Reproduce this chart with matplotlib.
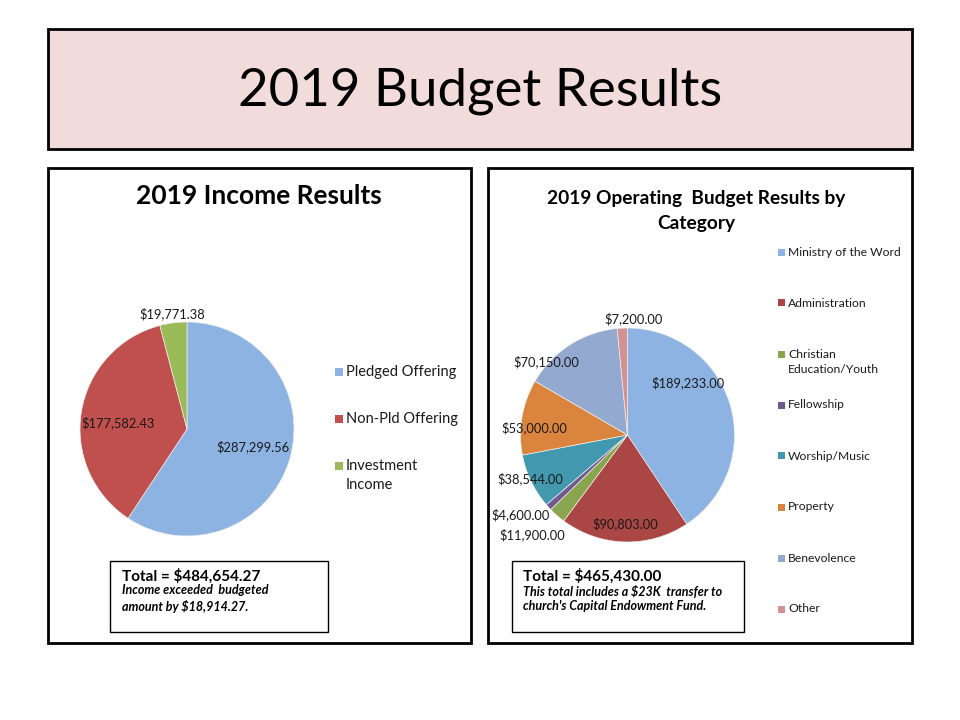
import numpy as np
import matplotlib
matplotlib.use("Agg")
import matplotlib.pyplot as plt
from matplotlib.patches import Rectangle

plt.rcParams['font.family'] = ['Lato', 'DejaVu Sans']

# ---------------- data ----------------
main_title = "2019 Budget Results"

income_title = "2019 Income Results"
income_categories = ["Pledged Offering", "Non-Pld Offering", "Investment\nIncome"]
income_values = [287299.56, 177582.43, 19771.38]
income_colors = ["#8DB3E2", "#C0504D", "#9BBB59"]
income_note_total = "Total = $484,654.27"
income_note_text = "Income exceeded  budgeted\namount by $18,914.27."

budget_title = "2019 Operating  Budget Results by\nCategory"
budget_categories = ["Ministry of the Word", "Administration", "Christian\nEducation/Youth",
                     "Fellowship", "Worship/Music", "Property", "Benevolence", "Other"]
budget_values = [189233.00, 90803.00, 11900.00, 4600.00, 38544.00, 53000.00, 70150.00, 7200.00]
budget_colors = ["#8DB3E2", "#AA4643", "#89A54E", "#71588F", "#4198AF", "#DB843D", "#93A9CF", "#D19392"]
budget_note_total = "Total = $465,430.00"
budget_note_text = "This total includes a $23K  transfer to\nchurch's Capital Endowment Fund."

# label placement styles (radial distance, angle nudge in degrees)
income_lbl_dist = [0.64, 0.65, 1.09]
income_lbl_nudge = [1.4, 4.4, 0.0]
budget_lbl_dist = [0.75, 0.83, 1.29, 1.25, 0.99, 0.87, 1.02, 1.085]
budget_lbl_nudge = [23.9, 0.0, -2.5, -5.7, -1.6, 5.4, 15.1, -6.0]

W, H = 960, 720
fig = plt.figure(figsize=(9.6, 7.2), dpi=100)
fig.patch.set_facecolor("white")


def fx(px):
    return px / W


def fy(py):
    return 1 - py / H


def box(x0, y0, x1, y1, fc="white", lw=2.0, ec="black"):
    r = Rectangle((fx(x0), fy(y1)), (x1 - x0) / W, (y1 - y0) / H,
                  transform=fig.transFigure, facecolor=fc, edgecolor=ec,
                  linewidth=lw, zorder=0)
    fig.add_artist(r)


# header
box(48, 29, 912, 149, fc="#F2DCDB", lw=2.0)
fig.text(fx(480), fy(91), main_title, ha="center", va="center", fontsize=38, color="black")

# panels
box(48, 168, 471, 643, lw=2.0)
box(488, 168, 912, 643, lw=2.0)

fig.text(fx(259), fy(196), income_title, ha="center", va="center", fontsize=19,
         fontweight="bold")
fig.text(fx(696), fy(211), budget_title, ha="center", va="center", fontsize=13.8,
         fontweight="bold", linespacing=1.6)


def draw_pie(cx, cy, r, values, colors, dists, nudges, lblsize):
    ax = fig.add_axes([fx(cx - r), fy(cy + r), 2 * r / W, 2 * r / H])
    wedges, _ = ax.pie(values, colors=colors, startangle=90, counterclock=False,
                       radius=1.0, wedgeprops=dict(edgecolor="#EDEDED", linewidth=0.5))
    ax.set_xlim(-1, 1)
    ax.set_ylim(-1, 1)
    ax.set_aspect("equal")
    ax.axis("off")
    for w, v, d, n in zip(wedges, values, dists, nudges):
        ang = np.deg2rad((w.theta1 + w.theta2) / 2 + n)
        ax.text(d * np.cos(ang), d * np.sin(ang), f"${v:,.2f}", ha="center", va="center",
                fontsize=lblsize, color="#1a1a1a", clip_on=False)
    return ax


draw_pie(187, 429, 107, income_values, income_colors, income_lbl_dist, income_lbl_nudge, 9.3)
draw_pie(627.5, 435, 107, budget_values, budget_colors, budget_lbl_dist, budget_lbl_nudge, 9.3)


def legend(x, y0, step, labels, colors, fs, sq, lstep):
    for i, (lab, c) in enumerate(zip(labels, colors)):
        y = y0 + i * step
        fig.add_artist(Rectangle((fx(x), fy(y + sq / 2)), sq / W, sq / H,
                                 transform=fig.transFigure, facecolor=c, edgecolor="none"))
        for j, line in enumerate(lab.split("\n")):
            fig.text(fx(x + sq + 3), fy(y + j * lstep), line, ha="left", va="center",
                     fontsize=fs, color="#1a1a1a")


legend(335, 372, 47, income_categories, income_colors, 10.5, 8, 19)
legend(778, 252, 51, budget_categories, budget_colors, 8.7, 7, 16)

# note boxes
box(110, 561, 328, 632, lw=1.0)
fig.text(fx(122), fy(576), income_note_total, ha="left", va="center", fontsize=11,
         fontweight="bold")
fig.text(fx(122), fy(598.5), income_note_text, ha="left", va="center", fontsize=9,
         fontweight="bold", fontstyle="italic", linespacing=1.3)

box(512, 561, 744, 632, lw=1.0)
fig.text(fx(523), fy(576), budget_note_total, ha="left", va="center", fontsize=11,
         fontweight="bold")
fig.text(fx(523), fy(598.5), budget_note_text, ha="left", va="center", fontsize=9,
         fontweight="bold", fontstyle="italic", linespacing=1.3)

fig.savefig("out.png", dpi=100)
